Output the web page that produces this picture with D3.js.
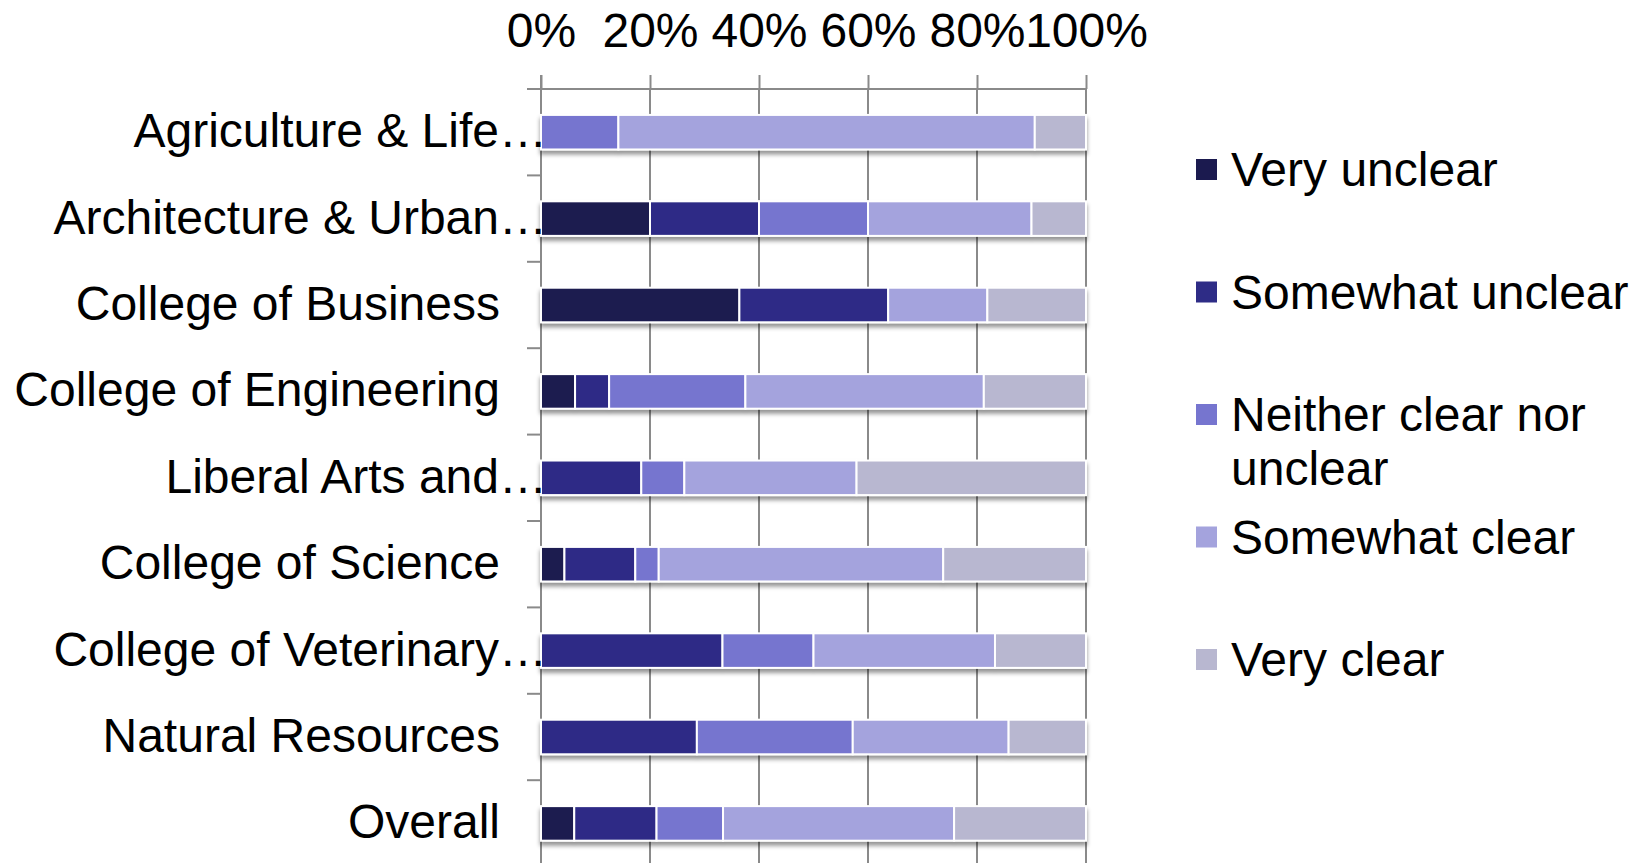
<!DOCTYPE html>
<html>
<head>
<meta charset="utf-8">
<script src="https://cdn.jsdelivr.net/npm/d3@7"></script>
<style>
  html, body { margin: 0; padding: 0; background: #fff; }
  svg { display: block; }
  text { font-family: "Liberation Sans", Arial, sans-serif; fill: #000; }
</style>
</head>
<body>
<svg id="chart" width="1644" height="863"></svg>
<script>
// ---- data ----
const categories = [
  "Agriculture & Life Sciences",
  "Architecture & Urban Studies",
  "College of Business",
  "College of Engineering",
  "Liberal Arts and Human Sciences",
  "College of Science",
  "College of Veterinary Medicine",
  "Natural Resources",
  "Overall"
];
const categoryLabels = [
  "Agriculture & Life…",
  "Architecture & Urban…",
  "College of Business",
  "College of Engineering",
  "Liberal Arts and…",
  "College of Science",
  "College of Veterinary…",
  "Natural Resources",
  "Overall"
];
const seriesNames = ["Very unclear", "Somewhat unclear", "Neither clear nor unclear", "Somewhat clear", "Very clear"];
const veryUnclear      = [0,    20, 36.4, 6.25,  0,    4.3,  0,    0,    6.1];
const somewhatUnclear  = [0,    20, 27.3, 6.25,  18.4, 13.0, 33.3, 28.6, 15.1];
const neitherClear     = [14.2, 20, 0,    25.0,  7.9,  4.3,  16.7, 28.6, 12.2];
const somewhatClear    = [76.4, 30, 18.2, 43.75, 31.6, 52.2, 33.3, 28.6, 42.4];
const veryClear        = [9.4,  10, 18.1, 18.75, 42.1, 26.2, 16.7, 14.2, 24.2];
const tickValues = [0, 20, 40, 60, 80, 100];
const tickLabels = ["0%", "20%", "40%", "60%", "80%", "100%"];
const colors = ["#1b1a4f", "#2e2c86", "#7675cf", "#a4a3dd", "#b8b7d0"];

// ---- layout ----
const FS = 48;
const svg = d3.select("#chart");
const x = d3.scaleLinear().domain([0, 100]).range([541, 1086]);
const y = d3.scaleBand().domain(categories).range([89, 866.6]).paddingInner(0.6).paddingOuter(0.3);
const gridColor = "#8a8a8a";

const rows = categories.map((c, i) => {
  const vals = [veryUnclear[i], somewhatUnclear[i], neitherClear[i], somewhatClear[i], veryClear[i]];
  return { cat: c, label: categoryLabels[i], vals };
});

// defs: drop shadow
const defs = svg.append("defs");
const f = defs.append("filter").attr("id", "shadow").attr("x", "-5%").attr("y", "-30%").attr("width", "110%").attr("height", "180%");
f.append("feDropShadow").attr("dx", 0).attr("dy", 4).attr("stdDeviation", 2.2)
  .attr("flood-color", "#000").attr("flood-opacity", 0.42);

// gridlines
const yTop = y.range()[0];
const yBot = y.range()[1];
svg.append("g").selectAll("line").data(tickValues.slice(1)).join("line")
  .attr("x1", d => x(d)).attr("x2", d => x(d))
  .attr("y1", yTop).attr("y2", yBot)
  .attr("stroke", gridColor).attr("stroke-width", 2);

// top axis
const xAxis = d3.axisTop(x).tickValues(tickValues).tickFormat((d, i) => tickLabels[i])
  .tickSize(14).tickPadding(28).tickSizeOuter(0);
const gx = svg.append("g").attr("transform", `translate(0,${yTop})`).call(xAxis);
gx.select(".domain").remove();
gx.selectAll(".tick line").attr("stroke", gridColor).attr("stroke-width", 2);
gx.selectAll(".tick text").attr("font-size", FS).attr("font-family", '"Liberation Sans", Arial, sans-serif').attr("fill", "#000");
svg.append("line").attr("x1", x(0) - 14).attr("x2", x(100)).attr("y1", yTop).attr("y2", yTop)
  .attr("stroke", gridColor).attr("stroke-width", 2);

// left axis line and boundary ticks
svg.append("line").attr("x1", x(0)).attr("x2", x(0)).attr("y1", yTop - 14).attr("y2", yBot)
  .attr("stroke", gridColor).attr("stroke-width", 2);
svg.append("g").selectAll("line").data(d3.range(1, categories.length + 1)).join("line")
  .attr("x1", x(0) - 14).attr("x2", x(0))
  .attr("y1", i => yTop + i * y.step()).attr("y2", i => yTop + i * y.step())
  .attr("stroke", gridColor).attr("stroke-width", 2);

// bars
const barG = svg.append("g");
rows.forEach(r => {
  const g = barG.append("g").attr("filter", "url(#shadow)");
  let acc = 0;
  const segs = r.vals.map((v, k) => { const s = { x0: acc, x1: acc + v, k }; acc += v; return s; })
    .filter(s => s.x1 - s.x0 > 0);
  g.selectAll("rect").data(segs).join("rect")
    .attr("x", s => x(s.x0))
    .attr("width", s => x(s.x1) - x(s.x0))
    .attr("y", y(r.cat))
    .attr("height", y.bandwidth())
    .attr("fill", s => colors[s.k])
    .attr("stroke", "#fff").attr("stroke-width", 2);
});

// category labels
svg.append("g").selectAll("text").data(rows).join("text")
  .attr("x", r => r.label.endsWith("…") ? 547 : 500)
  .attr("y", r => y(r.cat) + y.bandwidth() / 2 + 15)
  .attr("text-anchor", "end")
  .attr("font-size", FS)
  .text(r => r.label);

// legend
const legendLines = [["Very unclear"], ["Somewhat unclear"], ["Neither clear nor", "unclear"], ["Somewhat clear"], ["Very clear"]];
const lg = svg.append("g");
seriesNames.forEach((name, i) => {
  const base = 186 + i * 122.5;
  lg.append("rect").attr("x", 1196).attr("y", base - 27).attr("width", 21).attr("height", 21)
    .attr("fill", colors[i]);
  const t = lg.append("text").attr("x", 1231).attr("y", base).attr("font-size", FS);
  legendLines[i].forEach((ln, j) => {
    t.append("tspan").attr("x", 1231).attr("dy", j === 0 ? 0 : 54).text(ln);
  });
});
</script>
</body>
</html>
